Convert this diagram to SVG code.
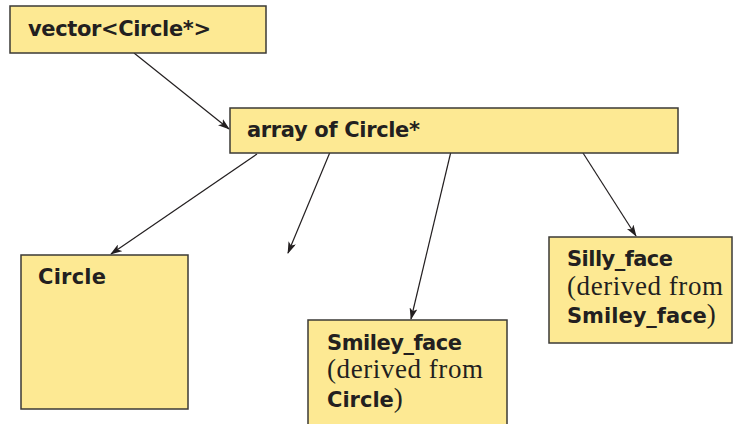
<svg xmlns="http://www.w3.org/2000/svg" width="733" height="424" viewBox="0 0 733 424">
<style>
.box{fill:#FDE993;stroke:#3b3a36;stroke-width:1.5}
.b{font-family:"DejaVu Sans",sans-serif;font-weight:bold;font-size:21px;fill:#231f20}
.s{font-family:"Liberation Serif",serif;font-size:27px;fill:#231f20}
.c{stroke:#231f20;stroke-width:1.2;fill:none;marker-end:url(#ah)}
</style>
<defs>
<marker id="ah" markerWidth="12" markerHeight="8" refX="11" refY="4" orient="auto" markerUnits="userSpaceOnUse">
<path d="M0,0 L12,4 L0,8 L3,4 Z" fill="#231f20"/>
</marker>
</defs>
<rect width="733" height="424" fill="#fff"/>
<g id="connectors">
<line class="c" x1="134" y1="53" x2="229" y2="129"/>
<line class="c" x1="257" y1="154" x2="111" y2="254"/>
<line class="c" x1="333" y1="145" x2="288" y2="253"/>
<line class="c" x1="453" y1="143" x2="411" y2="319"/>
<line class="c" x1="576" y1="142" x2="636" y2="236"/>
</g>
<g id="vector">
<rect class="box" x="10" y="6" width="256" height="47"/>
<text class="b" x="28" y="36" textLength="183">vector&lt;Circle*&gt;</text>
</g>
<g id="array">
<rect class="box" x="230" y="108" width="448" height="45"/>
<text class="b" x="247" y="137" textLength="173">array of Circle*</text>
</g>
<g id="circle">
<rect class="box" x="21" y="255" width="167" height="154"/>
<text class="b" x="38" y="284" textLength="68">Circle</text>
</g>
<g id="smiley">
<rect class="box" x="308" y="320" width="199" height="110"/>
<text class="b" x="327" y="350" textLength="135">Smiley_face</text>
<text class="s" x="327" y="378" textLength="156">(derived from</text>
<text x="327" y="407"><tspan class="b">Circle</tspan><tspan class="s">)</tspan></text>
</g>
<g id="silly">
<rect class="box" x="549" y="237" width="183" height="106"/>
<text class="b" x="567" y="266" textLength="106">Silly_face</text>
<text class="s" x="567" y="295" textLength="156">(derived from</text>
<text x="567" y="323"><tspan class="b">Smiley_face</tspan><tspan class="s">)</tspan></text>
</g>
</svg>
